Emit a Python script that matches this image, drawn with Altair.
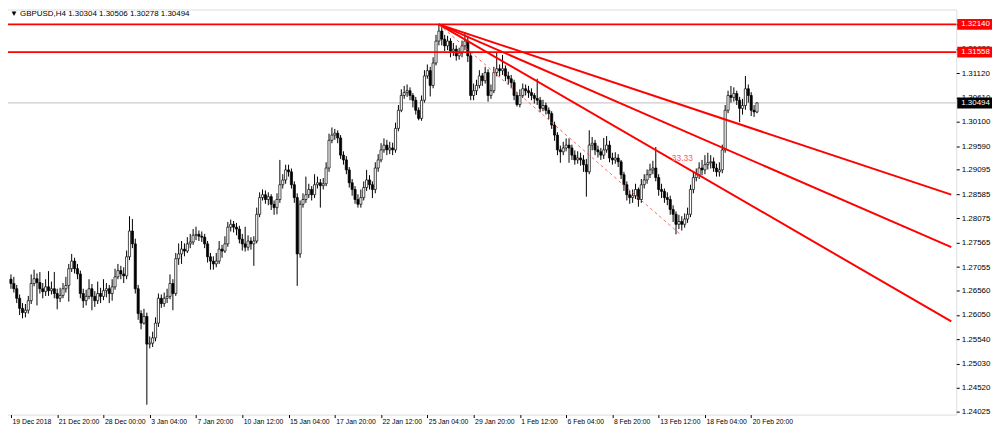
import json
import altair as alt
import pandas as pd

# ---- GBPUSD H4 candles, prices in pips (price x 10 000) ----
open_pips = [
    12680, 12671, 12660, 12640, 12619, 12610, 12615, 12635, 12671, 12681,
    12673, 12660, 12654, 12664, 12656, 12660, 12650, 12640, 12646, 12660,
    12667, 12702, 12718, 12702, 12691, 12650, 12635, 12644, 12660, 12644,
    12635, 12650, 12644, 12656, 12660, 12650, 12664, 12685, 12698, 12691,
    12687, 12727, 12781, 12754, 12660, 12608, 12588, 12602, 12544, 12546,
    12557, 12588, 12640, 12629, 12640, 12644, 12671, 12650, 12723, 12733,
    12743, 12739, 12754, 12758, 12772, 12774, 12770, 12768, 12754, 12727,
    12718, 12712, 12718, 12743, 12739, 12754, 12789, 12795, 12789, 12785,
    12764, 12754, 12747, 12760, 12754, 12760, 12816, 12851, 12857, 12847,
    12853, 12837, 12830, 12847, 12878, 12888, 12909, 12905, 12878, 12851,
    12733, 12837, 12847, 12857, 12868, 12857, 12878, 12882, 12876, 12880,
    12913, 12971, 12982, 12986, 12976, 12940, 12930, 12909, 12882, 12868,
    12847, 12837, 12851, 12872, 12888, 12878, 12868, 12913, 12930, 12951,
    12961, 12951, 12955, 12951, 12996, 13034, 13065, 13071, 13075, 13065,
    13055, 13034, 13017, 13055, 13106, 13117, 13086, 13133, 13179, 13200,
    13183, 13169, 13179, 13158, 13162, 13148, 13154, 13169, 13179, 13148,
    13065, 13075, 13086, 13106, 13096, 13113, 13065, 13075, 13113, 13121,
    13117, 13121, 13106, 13100, 13092, 13065, 13046, 13065, 13079, 13075,
    13071, 13065, 13059, 13055, 13038, 13044, 13034, 13027, 13003, 12982,
    12951, 12947, 12955, 12961, 12955, 12940, 12930, 12934, 12930, 12920,
    12905, 12961, 12965, 12951, 12947, 12940, 12951, 12961, 12934, 12930,
    12934, 12926, 12899, 12878, 12857, 12851, 12855, 12868, 12847, 12878,
    12888, 12899, 12909, 12913, 12893, 12868, 12864, 12851, 12847, 12826,
    12816, 12795, 12801, 12795, 12806, 12816, 12868, 12893, 12899, 12913,
    12909, 12920, 12924, 12926, 12913, 12905, 12909, 12951, 13034, 13065,
    13061, 13069, 13055, 13038, 13044, 13079, 13065, 13034, 13030.4,
]
high_pips = [
    12690, 12685, 12668, 12648, 12630, 12628, 12645, 12690, 12700, 12692,
    12695, 12672, 12680, 12697, 12675, 12695, 12660, 12662, 12672, 12685,
    12712, 12733, 12725, 12712, 12698, 12660, 12658, 12680, 12670, 12655,
    12675, 12662, 12680, 12672, 12668, 12680, 12702, 12712, 12708, 12705,
    12740, 12812, 12806, 12765, 12668, 12615, 12618, 12610, 12560, 12570,
    12600, 12650, 12648, 12652, 12660, 12690, 12680, 12735, 12755, 12760,
    12755, 12768, 12775, 12785, 12790, 12782, 12780, 12775, 12760, 12735,
    12728, 12735, 12760, 12752, 12770, 12800, 12805, 12802, 12798, 12792,
    12775, 12790, 12772, 12768, 12770, 12830, 12862, 12868, 12866, 12862,
    12858, 12845, 12860, 12930, 12900, 12920, 12920, 12912, 12885, 12860,
    12845, 12860, 12895, 12880, 12875, 12900, 12895, 12890, 12892, 12925,
    12985, 12998, 12995, 12992, 12982, 12948, 12938, 12915, 12890, 12875,
    12858, 12868, 12885, 12909, 12898, 12885, 12925, 12942, 12965, 12975,
    12972, 12968, 12966, 13008, 13045, 13078, 13085, 13088, 13082, 13070,
    13062, 13040, 13065, 13118, 13130, 13125, 13145, 13192, 13214, 13208,
    13192, 13190, 13185, 13175, 13170, 13165, 13180, 13198, 13190, 13155,
    13090, 13098, 13118, 13112, 13125, 13120, 13088, 13125, 13156, 13130,
    13150, 13128, 13115, 13108, 13098, 13072, 13078, 13090, 13088, 13085,
    13080, 13070, 13100, 13062, 13056, 13050, 13040, 13032, 13010, 12988,
    12960, 12968, 12975, 12975, 12962, 12950, 12948, 12945, 12940, 12932,
    12992, 12978, 12972, 12960, 12955, 12976, 12980, 12970, 12945, 12946,
    12942, 12930, 12905, 12885, 12866, 12868, 12880, 12872, 12890, 12900,
    12910, 12922, 12928, 12957, 12900, 12880, 12870, 12862, 12855, 12835,
    12822, 12815, 12812, 12818, 12830, 12878, 12905, 12912, 12925, 12930,
    12940, 12945, 12940, 12935, 12922, 12925, 12962, 13045, 13075, 13085,
    13082, 13075, 13062, 13058, 13106, 13088, 13072, 13045, 13050.6,
]
low_pips = [
    12660, 12652, 12630, 12605, 12598, 12600, 12608, 12628, 12665, 12625,
    12650, 12640, 12645, 12645, 12648, 12640, 12617, 12632, 12640, 12652,
    12633, 12695, 12692, 12680, 12640, 12620, 12625, 12638, 12615, 12622,
    12628, 12630, 12636, 12642, 12630, 12635, 12658, 12680, 12680, 12672,
    12680, 12720, 12745, 12650, 12595, 12575, 12585, 12417, 12535, 12538,
    12550, 12580, 12620, 12622, 12630, 12638, 12615, 12645, 12710, 12712,
    12728, 12735, 12745, 12752, 12762, 12760, 12758, 12745, 12715, 12700,
    12700, 12705, 12712, 12725, 12735, 12748, 12780, 12778, 12772, 12755,
    12740, 12738, 12740, 12742, 12708, 12755, 12810, 12845, 12838, 12835,
    12825, 12815, 12816, 12840, 12870, 12880, 12895, 12870, 12840, 12666,
    12725, 12830, 12840, 12850, 12845, 12850, 12870, 12830, 12868, 12875,
    12905, 12965, 12972, 12965, 12932, 12920, 12900, 12872, 12855, 12838,
    12830, 12830, 12845, 12865, 12868, 12850, 12860, 12905, 12925, 12945,
    12940, 12942, 12940, 12945, 12990, 13030, 13058, 13062, 13055, 13040,
    13025, 13013, 13012, 13050, 13100, 13063, 13080, 13128, 13170, 13170,
    13158, 13160, 13145, 13148, 13138, 13140, 13145, 13160, 13135, 13055,
    13055, 13066, 13080, 13085, 13090, 13052, 13058, 13070, 13105, 13105,
    13108, 13095, 13088, 13080, 13055, 13042, 13040, 13060, 13065, 13060,
    13055, 13048, 13045, 13030, 13032, 13025, 13015, 12995, 12970, 12940,
    12924, 12940, 12948, 12924, 12930, 12920, 12922, 12918, 12905, 12853,
    12900, 12950, 12940, 12935, 12930, 12932, 12945, 12925, 12920, 12922,
    12915, 12890, 12865, 12845, 12838, 12840, 12848, 12832, 12840, 12870,
    12880, 12892, 12900, 12885, 12855, 12850, 12840, 12835, 12815, 12800,
    12774, 12785, 12782, 12788, 12798, 12810, 12860, 12885, 12890, 12898,
    12900, 12910, 12912, 12905, 12895, 12895, 12902, 12945, 13028, 13050,
    13052, 13045, 13009, 13025, 13035, 13050, 13022, 13020, 13027.8,
]
close_pips = [
    12671, 12660, 12640, 12619, 12610, 12615, 12635, 12671, 12681, 12673,
    12660, 12654, 12664, 12656, 12660, 12650, 12640, 12646, 12660, 12667,
    12702, 12718, 12702, 12691, 12650, 12635, 12644, 12660, 12644, 12635,
    12650, 12644, 12656, 12660, 12650, 12664, 12685, 12698, 12691, 12687,
    12727, 12781, 12754, 12660, 12608, 12588, 12602, 12544, 12546, 12557,
    12588, 12640, 12629, 12640, 12644, 12671, 12650, 12723, 12733, 12743,
    12739, 12754, 12758, 12772, 12774, 12770, 12768, 12754, 12727, 12718,
    12712, 12718, 12743, 12739, 12754, 12789, 12795, 12789, 12785, 12764,
    12754, 12747, 12760, 12754, 12760, 12816, 12851, 12857, 12847, 12853,
    12837, 12830, 12847, 12878, 12888, 12909, 12905, 12878, 12851, 12733,
    12837, 12847, 12857, 12868, 12857, 12878, 12882, 12876, 12880, 12913,
    12971, 12982, 12986, 12976, 12940, 12930, 12909, 12882, 12868, 12847,
    12837, 12851, 12872, 12888, 12878, 12868, 12913, 12930, 12951, 12961,
    12951, 12955, 12951, 12996, 13034, 13065, 13071, 13075, 13065, 13055,
    13034, 13017, 13055, 13106, 13117, 13086, 13133, 13179, 13200, 13183,
    13169, 13179, 13158, 13162, 13148, 13154, 13169, 13179, 13148, 13065,
    13075, 13086, 13106, 13096, 13113, 13065, 13075, 13113, 13121, 13117,
    13121, 13106, 13100, 13092, 13065, 13046, 13065, 13079, 13075, 13071,
    13065, 13059, 13055, 13038, 13044, 13034, 13027, 13003, 12982, 12951,
    12947, 12955, 12961, 12955, 12940, 12930, 12934, 12930, 12920, 12905,
    12961, 12965, 12951, 12947, 12940, 12951, 12961, 12934, 12930, 12934,
    12926, 12899, 12878, 12857, 12851, 12855, 12868, 12847, 12878, 12888,
    12899, 12909, 12913, 12893, 12868, 12864, 12851, 12847, 12826, 12816,
    12795, 12801, 12795, 12806, 12816, 12868, 12893, 12899, 12913, 12909,
    12920, 12924, 12926, 12913, 12905, 12909, 12951, 13034, 13065, 13061,
    13069, 13055, 13038, 13044, 13079, 13065, 13034, 13030.4, 13049.4,
]

date_labels = ["19 Dec 2018", "21 Dec 20:00", "28 Dec 00:00", "3 Jan 04:00",
               "7 Jan 20:00", "10 Jan 12:00", "15 Jan 04:00", "17 Jan 20:00",
               "22 Jan 12:00", "25 Jan 04:00", "29 Jan 20:00", "1 Feb 12:00",
               "6 Feb 04:00", "8 Feb 20:00", "13 Feb 12:00", "18 Feb 04:00",
               "20 Feb 20:00"]
bars_per_label = 16
price_ticks = [1.24025, 1.24520, 1.25030, 1.25540, 1.26050, 1.26560, 1.27055,
               1.27565, 1.28075, 1.28585, 1.29095, 1.29590, 1.30100, 1.30610,
               1.31120, 1.31630, 1.32140]

level_prices = [1.32140, 1.31558]          # horizontal red lines
bid_price = 1.30494                        # current bid line
title_text = "▼ GBPUSD,H4  1.30304 1.30506 1.30278 1.30494"

# Fibonacci fan anchors (bar index, price) and levels
fan_high = (148, 1.32140)
fan_low = (231.5, 1.27740)
fan_levels = [33.33, 50.0, 61.8]

# ---- layout ----
W, H = 960, 408
X_MIN, X_MAX = -1.02, 325.2
Y_MIN, Y_MAX = 1.23963, 1.32452

n = len(close_pips)
df = pd.DataFrame({
    "i": list(range(n)),
    "open": [v / 1e4 for v in open_pips],
    "high": [v / 1e4 for v in high_pips],
    "low": [v / 1e4 for v in low_pips],
    "close": [v / 1e4 for v in close_pips],
})
df["dir"] = ["up" if c >= o else "down" for o, c in zip(df["open"], df["close"])]

FONT = "Liberation Sans"
xscale = alt.Scale(domain=[X_MIN, X_MAX], nice=False, zero=False)
yscale = alt.Scale(domain=[Y_MIN, Y_MAX], nice=False, zero=False)

label_expr = json.dumps(date_labels) + f"[round(datum.value/{bars_per_label})]"
xaxis = alt.Axis(values=[k * bars_per_label for k in range(len(date_labels))],
                 labelExpr=label_expr, title=None, grid=False, domain=False,
                 tickSize=3, tickColor="#000", labelAlign="left", labelOffset=1,
                 labelPadding=1, labelFontSize=6.9, labelFont=FONT,
                 labelColor="#000", labelOverlap=False, labelFlush=False,
                 labelBound=False)
yaxis = alt.Axis(orient="right", values=price_ticks, format=".5f", title=None,
                 grid=False, domain=False, tickSize=3, tickColor="#000",
                 labelPadding=2, labelFontSize=8, labelFont=FONT,
                 labelColor="#000", labelOverlap=False, labelBound=False,
                 labelFlush=False)


def X(field):
    return alt.X(field, scale=xscale, axis=xaxis)


def Y(field):
    return alt.Y(field, scale=yscale, axis=yaxis)


base = alt.Chart(df)

bid = alt.Chart(pd.DataFrame({"price": [bid_price]})).mark_rule(
    color="#c0c0c0", strokeWidth=1
).encode(y=Y("price:Q"))

wicks = base.mark_rule(color="#000", strokeWidth=1).encode(
    x=X("i:Q"), y=Y("low:Q"), y2="high:Q")
bodies = base.mark_bar(size=2.2, stroke="#000", strokeWidth=0.7, orient="vertical").encode(
    x=X("i:Q"), y=Y("open:Q"), y2="close:Q",
    fill=alt.Fill("dir:N", scale=alt.Scale(domain=["up", "down"], range=["#ffffff", "#000000"]),
                  legend=None),
)

hlines = alt.Chart(pd.DataFrame({"price": level_prices})).mark_rule(
    color="#ff0000", strokeWidth=1.6
).encode(y=Y("price:Q"))

# fan rays from the high through each level at the low anchor, extended to right edge
x0, p0 = fan_high
x1, p1 = fan_low
rows = []
for lv in fan_levels:
    p_at = p1 + (p0 - p1) * lv / 100.0
    slope = (p_at - p0) / (x1 - x0)
    rows.append({"line": str(lv), "i": x0, "price": p0})
    rows.append({"line": str(lv), "i": X_MAX, "price": p0 + slope * (X_MAX - x0)})
fan = alt.Chart(pd.DataFrame(rows)).mark_line(color="#ff0000", strokeWidth=2).encode(
    x=X("i:Q"), y=Y("price:Q"), detail="line:N")

trend = alt.Chart(pd.DataFrame({"i": [x0, x1], "price": [p0, p1]})).mark_line(
    color="#ff4040", strokeWidth=1, strokeDash=[3, 3], opacity=0.8
).encode(x=X("i:Q"), y=Y("price:Q"))

lv0 = fan_levels[0]
fan_label = alt.Chart(pd.DataFrame({
    "i": [x1], "price": [p1 + (p0 - p1) * lv0 / 100.0], "t": [f"{lv0:.2f}"]
})).mark_text(color="#ff5a5a", fontSize=8.5, font=FONT, align="center",
              baseline="bottom", dy=-1, dx=2).encode(
    x=X("i:Q"), y=Y("price:Q"), text="t:N")

# price tags on the right axis
tags_df = pd.DataFrame({
    "price": level_prices + [bid_price],
    "t": [f"{p:.5f}" for p in level_prices + [bid_price]],
    "kind": ["level", "level", "bid"],
})
tag_box = alt.Chart(tags_df).mark_rect(yOffset=-5.5, y2Offset=5.5).encode(
    x=alt.value(W + 1), x2=alt.value(W + 36),
    y=Y("price:Q"), y2="price:Q",
    color=alt.Color("kind:N", scale=alt.Scale(domain=["level", "bid"], range=["#ff0000", "#000000"]),
                    legend=None),
)
tag_text = alt.Chart(tags_df).mark_text(align="left", baseline="middle", fontSize=8,
                                        font=FONT, color="#ffffff").encode(
    x=alt.value(W + 5), y=Y("price:Q"), text="t:N")

title = alt.Chart(pd.DataFrame({"t": [title_text]})).mark_text(
    align="left", baseline="middle", fontSize=8, font=FONT, color="#000"
).encode(x=alt.value(7), y=alt.value(5), text="t:N")

chart = alt.layer(
    bid, wicks, bodies, trend, fan, hlines, fan_label, tag_box, tag_text, title
).properties(
    width=W, height=H, padding={"left": -6, "top": 0, "right": 0, "bottom": 0}
).configure_view(stroke="#000", strokeWidth=1).configure_axis(
    labelOverlap=False
).configure(background="#ffffff")

chart.save("out.html", embed_options={"renderer": "svg", "actions": False})
